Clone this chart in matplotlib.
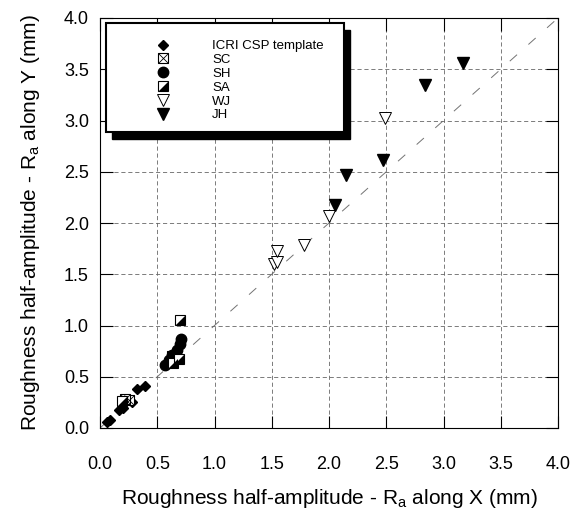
import matplotlib
matplotlib.use("Agg")
import matplotlib.pyplot as plt
from matplotlib.patches import Rectangle
from matplotlib.lines import Line2D

plt.rcParams['font.family'] = ['Liberation Sans', 'DejaVu Sans']
plt.rcParams['lines.scale_dashes'] = False

# data (Ra along X, Ra along Y), mm
icri_x = [0.06, 0.09, 0.17, 0.20, 0.28, 0.32, 0.39]
icri_y = [0.06, 0.08, 0.18, 0.20, 0.25, 0.38, 0.41]
sc_x = [0.25, 0.22, 0.63]
sc_y = [0.27, 0.28, 0.70]
sh_x = [0.57, 0.60, 0.63, 0.67, 0.70, 0.71]
sh_y = [0.61, 0.66, 0.71, 0.76, 0.82, 0.87]
sa_x = [0.19, 0.64, 0.69, 0.70]
sa_y = [0.26, 0.63, 0.67, 1.05]
wj_x = [1.52, 1.55, 1.55, 1.78, 2.00, 2.49]
wj_y = [1.60, 1.62, 1.73, 1.79, 2.07, 3.02]
jh_x = [2.05, 2.15, 2.47, 2.84, 3.17]
jh_y = [2.18, 2.47, 2.61, 3.35, 3.56]

labels = ['ICRI CSP template', 'SC', 'SH', 'SA', 'WJ', 'JH']
ticks = [0.0, 0.5, 1.0, 1.5, 2.0, 2.5, 3.0, 3.5, 4.0]

# lower-right half of a square, for the SA symbol
half_tri = [(-1, -1), (1, -1), (1, 1), (-1, -1)]

fig = plt.figure(figsize=(5.74, 5.25), dpi=100)
ax = fig.add_axes([100/574, 1 - 428/525, 458/574, 410/525])

ax.plot([0, 4], [0, 4], color='0.45', lw=0.7, dashes=(7, 11), zorder=1)

ms = 6.5
ax.plot(icri_x, icri_y, ls='none', marker='D', ms=5.5, color='black', zorder=3)
ax.plot(sc_x, sc_y, ls='none', marker='s', ms=ms, mfc='white', mec='black', mew=0.8, zorder=3)
ax.plot(sc_x, sc_y, ls='none', marker='x', ms=ms, mec='black', mew=0.6, zorder=3)
ax.plot(sh_x, sh_y, ls='none', marker='o', ms=7.5, color='black', zorder=3)
ax.plot(sa_x, sa_y, ls='none', marker='s', ms=ms, mfc='white', mec='black', mew=0.8, zorder=3)
ax.plot(sa_x, sa_y, ls='none', marker=half_tri, ms=ms, color='black', mew=0, zorder=3)
ax.plot(wj_x, wj_y, ls='none', marker='v', ms=8, mfc='white', mec='black', mew=0.7, zorder=3)
ax.plot(jh_x, jh_y, ls='none', marker='v', ms=8, color='black', zorder=3)

ax.set_xlim(0, 4)
ax.set_ylim(0, 4)
ax.set_xticks(ticks)
ax.set_yticks(ticks)
ax.set_xticklabels(['%.1f' % t for t in ticks])
ax.set_yticklabels(['%.1f' % t for t in ticks])
ax.tick_params(direction='in', length=9, width=0.8, top=True, right=True,
               labelsize=13)
ax.tick_params(axis='x', pad=20)
ax.tick_params(axis='y', pad=8)
ax.grid(True, color='0.4', lw=0.6, dashes=(3, 2))
for s in ax.spines.values():
    s.set_linewidth(0.8)

ax.set_xlabel(r'Roughness half-amplitude - R$_{\mathregular{a}}$ along X (mm)',
              fontsize=15, labelpad=10)
ax.set_ylabel(r'Roughness half-amplitude - R$_{\mathregular{a}}$ along Y (mm)',
              fontsize=15, labelpad=16)

# legend box with a solid black shadow
bx0, bx1 = 6/458, 244/458
by0, by1 = 296/410, 405/410
ax.add_patch(Rectangle((bx0 + 6/458, by0 - 7/410), bx1 - bx0, by1 - by0,
                       transform=ax.transAxes, facecolor='black', edgecolor='black',
                       zorder=5, clip_on=False))
ax.add_patch(Rectangle((bx0, by0), bx1 - bx0, by1 - by0, transform=ax.transAxes,
                       facecolor='white', edgecolor='black', lw=1.5, zorder=6,
                       clip_on=False))

h_icri = Line2D([], [], ls='none', marker='D', ms=5.5, color='black')
h_sc = (Line2D([], [], ls='none', marker='s', ms=ms, mfc='white', mec='black', mew=0.8),
        Line2D([], [], ls='none', marker='x', ms=ms, mec='black', mew=0.6))
h_sh = Line2D([], [], ls='none', marker='o', ms=7.5, color='black')
h_sa = (Line2D([], [], ls='none', marker='s', ms=ms, mfc='white', mec='black', mew=0.8),
        Line2D([], [], ls='none', marker=half_tri, ms=ms, color='black', mew=0))
h_wj = Line2D([], [], ls='none', marker='v', ms=8, mfc='white', mec='black', mew=0.7)
h_jh = Line2D([], [], ls='none', marker='v', ms=8, color='black')

leg = ax.legend([h_icri, h_sc, h_sh, h_sa, h_wj, h_jh], labels, loc='upper left',
                bbox_to_anchor=(50/458, 388/410), frameon=False, fontsize=9.5,
                handlelength=2, handletextpad=2.7, labelspacing=0.12,
                borderpad=0, borderaxespad=0)
leg.set_zorder(7)

fig.savefig('out.png', dpi=100)
